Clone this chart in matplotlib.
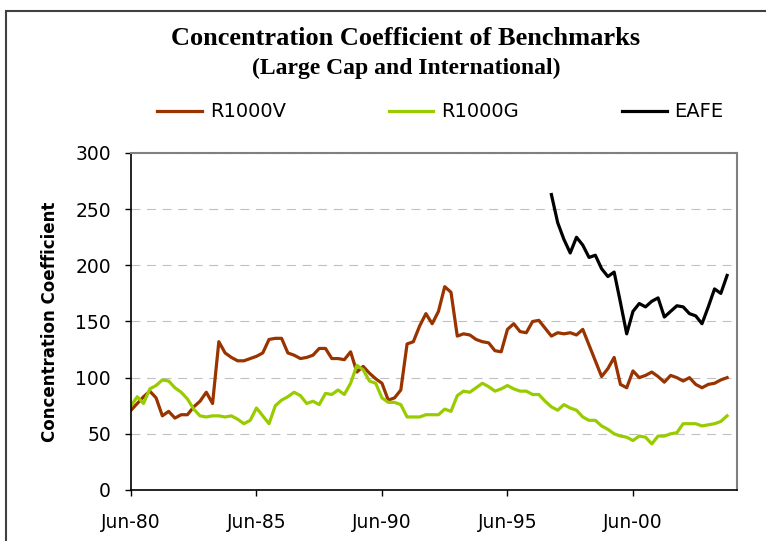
import matplotlib
matplotlib.use("Agg")
import matplotlib.pyplot as plt
import numpy as np
from matplotlib.patches import Rectangle

# quarterly values, Jun-80 .. Mar-04
r1000v = [71, 77, 83, 88, 82, 66, 70, 64, 67, 67,
          74, 79, 87, 77, 132, 122, 118, 115, 115, 117,
          119, 122, 134, 135, 135, 122, 120, 117, 118, 120,
          126, 126, 117, 117, 116, 123, 105, 110, 104, 99,
          95, 80, 82, 89, 130, 132, 146, 157, 148, 159,
          181, 176, 137, 139, 138, 134, 132, 131, 124, 123,
          143, 148, 141, 140, 150, 151, 144, 137, 140, 139,
          140, 138, 143, 129, 115, 101, 108, 118, 94, 91,
          106, 100, 102, 105, 101, 96, 102, 100, 97, 100,
          94, 91, 94, 95, 98, 100]
r1000g = [75, 83, 77, 90, 93, 98, 97, 91, 87, 81,
          72, 66, 65, 66, 66, 65, 66, 63, 59, 62,
          73, 66, 59, 75, 80, 83, 87, 84, 77, 79,
          76, 86, 85, 89, 85, 95, 111, 107, 97, 95,
          82, 78, 78, 76, 65, 65, 65, 67, 67, 67,
          72, 70, 84, 88, 87, 91, 95, 92, 88, 90,
          93, 90, 88, 88, 85, 85, 79, 74, 71, 76,
          73, 71, 65, 62, 62, 57, 54, 50, 48, 47,
          44, 48, 47, 41, 48, 48, 50, 51, 59, 59,
          59, 57, 58, 59, 61, 66]
# EAFE series only starts in Mar-97 (quarter index 67)
eafe_start = 67
eafe = [263, 238, 223, 211, 225, 218, 207, 209, 197, 190,
        194, 167, 139, 159, 166, 163, 168, 171, 154, 159,
        164, 163, 157, 155, 148, 163, 179, 175, 191]

tick_pos = [0, 20, 40, 60, 80]
tick_labels = ["Jun-80", "Jun-85", "Jun-90", "Jun-95", "Jun-00"]

x = np.arange(len(r1000v))
x_eafe = np.arange(eafe_start, eafe_start + len(eafe))

fig = plt.figure(figsize=(7.66, 5.41), dpi=100)
ax = fig.add_axes([0.171, 0.0943, 0.7905, 0.6229])

ax.plot(x, r1000v, color="#993300", lw=2.3, label="R1000V")
ax.plot(x, r1000g, color="#99cc00", lw=2.3, label="R1000G")
ax.plot(x_eafe, eafe, color="black", lw=2.3, label="EAFE")

ax.set_xlim(0, 96.5)
ax.set_ylim(0, 300)
ax.set_yticks(range(0, 301, 50))
ax.set_xticks(tick_pos)
ax.set_xticklabels(tick_labels)

ax.yaxis.grid(True, linestyle=(0, (8, 6)), color="#c0c0c0", lw=0.8)
ax.set_axisbelow(True)

for s in ["top", "right"]:
    ax.spines[s].set_color("#808080")
    ax.spines[s].set_linewidth(1.5)
for s in ["left", "bottom"]:
    ax.spines[s].set_color("black")
    ax.spines[s].set_linewidth(1.2)

ax.tick_params(axis="both", direction="out", length=4.5, width=1.0,
               labelsize=13.5, colors="black")
ax.tick_params(axis="y", pad=10)
ax.tick_params(axis="x", pad=12)

ax.set_ylabel("Concentration Coefficient", fontsize=12, fontweight="bold",
              labelpad=12)

fig.text(0.530, 0.928, "Concentration Coefficient of Benchmarks",
         ha="center", va="center", fontsize=19, fontweight="bold",
         family="Liberation Serif")
fig.text(0.530, 0.873, "(Large Cap and International)",
         ha="center", va="center", fontsize=17, fontweight="bold",
         family="Liberation Serif")

fig.legend(loc="center", bbox_to_anchor=(0.575, 0.793), ncol=3,
           frameon=False, fontsize=14, handlelength=2.3,
           handletextpad=0.4, columnspacing=5.3)

# outer chart border
fig.patches.append(Rectangle((5.5 / 766, -0.1), 1.2, 1.1 - 11.5 / 541,
                             transform=fig.transFigure, fill=False,
                             edgecolor="#404040", lw=1.5))

fig.savefig("out.png", dpi=100)
